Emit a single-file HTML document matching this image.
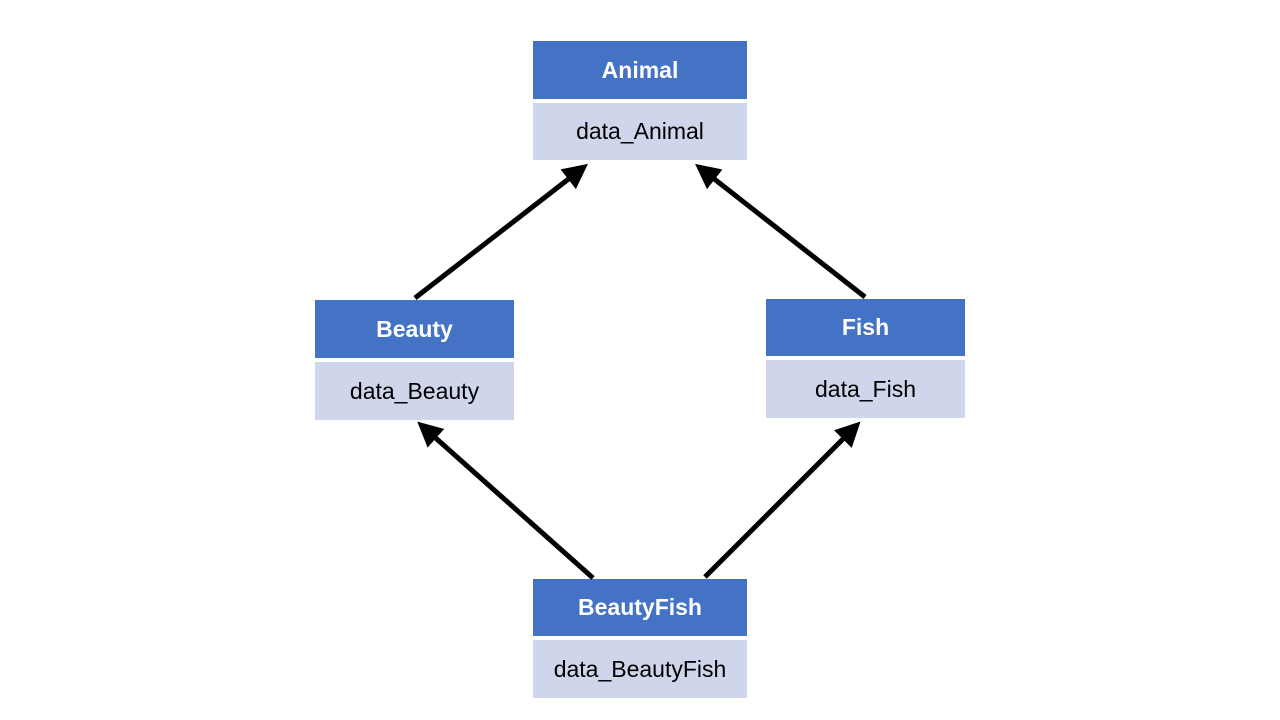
<!DOCTYPE html>
<html><head><style>
body{margin:0;width:1280px;height:720px;background:#fff;position:relative;overflow:hidden;font-family:"Liberation Sans",sans-serif}
.h{position:absolute;background:#4472C4;color:#fff;font-weight:bold;font-size:23px;display:flex;align-items:center;justify-content:center}
.b{position:absolute;background:#CFD5EA;color:#000;font-size:23px;display:flex;align-items:center;justify-content:center}
svg{position:absolute;left:0;top:0}
</style></head><body>
<div class="h" style="left:533px;top:41px;width:214px;height:58px">Animal</div>
<div class="b" style="left:533px;top:103px;width:214px;height:57px">data_Animal</div>
<div class="h" style="left:315px;top:300px;width:199px;height:58px">Beauty</div>
<div class="b" style="left:315px;top:362px;width:199px;height:58px">data_Beauty</div>
<div class="h" style="left:766px;top:299px;width:199px;height:57px">Fish</div>
<div class="b" style="left:766px;top:360px;width:199px;height:58px">data_Fish</div>
<div class="h" style="left:533px;top:579px;width:214px;height:57px">BeautyFish</div>
<div class="b" style="left:533px;top:640px;width:214px;height:58px">data_BeautyFish</div>
<svg width="1280" height="720">
<defs><marker id="a" markerWidth="5" markerHeight="5" refX="4" refY="2.5" orient="auto" markerUnits="strokeWidth"><path d="M0,0 L5,2.5 L0,5 z" fill="#000"/></marker></defs>
<g stroke="#000" stroke-width="5" marker-end="url(#a)">
<line x1="415" y1="298" x2="584" y2="167"/>
<line x1="865" y1="297" x2="699" y2="167"/>
<line x1="593" y1="578" x2="421" y2="425"/>
<line x1="705" y1="577" x2="857" y2="425"/>
</g></svg>
</body></html>
